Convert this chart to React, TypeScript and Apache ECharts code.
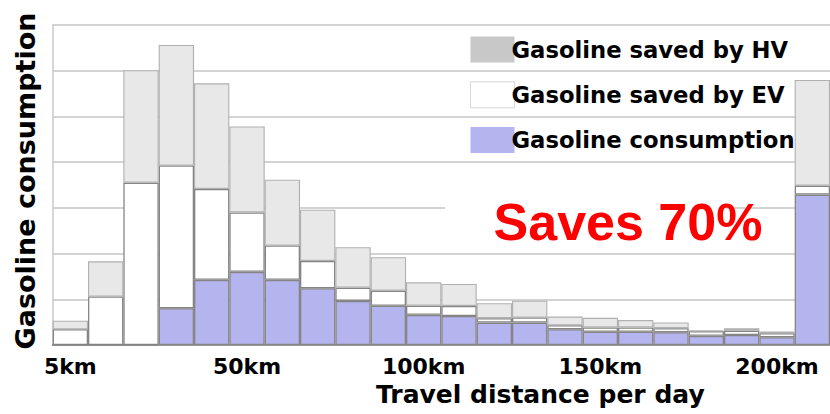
import React, { useEffect, useRef } from "react";
import * as echarts from "echarts";

// Distance bins (10 km each), last bin = over 200 km
const categories = [
  "0-10", "10-20", "20-30", "30-40", "40-50", "50-60", "60-70", "70-80", "80-90", "90-100",
  "100-110", "110-120", "120-130", "130-140", "140-150", "150-160", "160-170", "170-180",
  "180-190", "190-200", "200-210", "210+",
];
const xTickLabels = [
  "5km", "", "", "", "", "50km", "", "", "", "", "100km", "", "", "", "", "150km", "", "", "", "", "200km", "",
];
const consumption = [0, 0, 0, 8.05, 14.25, 16.0, 14.25, 12.4, 9.65, 8.6, 6.6, 6.35, 4.9, 4.9, 3.44, 2.9, 2.9, 2.8, 2.0, 2.2, 1.7, 32.9];
const savedByEV = [3.44, 10.6, 35.5, 31.2, 19.9, 13.0, 7.5, 6.0, 2.9, 3.3, 2.0, 2.2, 0.96, 1.1, 0.88, 0.95, 0.95, 0.88, 1.0, 0.95, 0.88, 1.97];
const savedByHV = [1.89, 7.7, 24.6, 26.4, 23.1, 18.8, 14.4, 11.2, 8.85, 7.3, 5.1, 4.8, 3.3, 3.7, 1.9, 2.1, 1.6, 1.24, 0.22, 0.5, 0.36, 23.1];

const NAME_HV = "Gasoline saved by HV";
const NAME_EV = "Gasoline saved by EV";
const NAME_CONS = "Gasoline consumption";

const FONT = "DejaVu Sans";

export default function App() {
  const ref = useRef<HTMLDivElement>(null);
  useEffect(() => {
    document.body.style.margin = "0";
    const chart = echarts.init(ref.current!, null, { renderer: "svg" });
    chart.setOption({
      animation: false,
      backgroundColor: "#ffffff",
      grid: { left: 52.7, top: 25, width: 782, height: 320, containLabel: false },
      legend: {
        orient: "vertical",
        left: 470,
        top: 36.5,
        padding: 0,
        itemWidth: 44,
        itemHeight: 26,
        itemGap: 18.8,
        icon: "rect",
        selectedMode: false,
        textStyle: {
          fontFamily: FONT,
          fontWeight: "bold",
          fontSize: 22.7,
          color: "#000",
          padding: [0, 0, 0, -8],
        },
        data: [
          { name: NAME_HV, itemStyle: { color: "#c8c8c8", borderWidth: 0 } },
          { name: NAME_EV, itemStyle: { color: "#ffffff", borderColor: "#d8d8d8", borderWidth: 1 } },
          { name: NAME_CONS, itemStyle: { color: "#b4b4ef", borderWidth: 0 } },
        ],
      },
      xAxis: {
        type: "category",
        data: categories,
        boundaryGap: true,
        name: "Travel distance per day",
        nameLocation: "middle",
        nameGap: 36,
        nameTextStyle: {
          fontFamily: FONT,
          fontWeight: "bold",
          fontSize: 25,
          color: "#000",
          padding: [0, 0, 0, 198],
        },
        axisLine: { show: true, lineStyle: { color: "#9a9a9a", width: 2 } },
        axisTick: { show: false },
        axisLabel: {
          interval: 0,
          margin: 10,
          fontFamily: FONT,
          fontWeight: "bold",
          fontSize: 22,
          color: "#000",
          formatter: (_v: string, i: number) => xTickLabels[i],
        },
        splitLine: { show: false },
      },
      yAxis: {
        type: "value",
        min: 0,
        max: 70,
        interval: 10,
        name: "Gasoline consumption",
        nameLocation: "middle",
        nameGap: 14,
        nameTextStyle: {
          fontFamily: FONT,
          fontWeight: "bold",
          fontSize: 27,
          color: "#000",
          padding: [0, 0, 0, 8],
        },
        axisLine: { show: true, lineStyle: { color: "#c8c8c8", width: 1.5 } },
        axisTick: { show: false },
        axisLabel: { show: false },
        splitLine: { show: true, lineStyle: { color: "#c4c4c4", width: 1.5 } },
      },
      series: [
        {
          name: NAME_CONS,
          type: "bar",
          stack: "total",
          data: consumption,
          barWidth: "100%",
          barCategoryGap: 0,
          itemStyle: { color: "#b4b4ef", borderColor: "#858585", borderWidth: 1.3 },
        },
        {
          name: NAME_EV,
          type: "bar",
          stack: "total",
          data: savedByEV,
          barWidth: "100%",
          barCategoryGap: 0,
          itemStyle: { color: "#ffffff", borderColor: "#858585", borderWidth: 1.3 },
        },
        {
          name: NAME_HV,
          type: "bar",
          stack: "total",
          data: savedByHV,
          barWidth: "100%",
          barCategoryGap: 0,
          itemStyle: { color: "#e8e8e8", borderColor: "#b0b0b0", borderWidth: 1.1 },
        },
      ],
      graphic: [
        {
          type: "rect",
          z: 1,
          silent: true,
          shape: { x: 445, y: 203, width: 281, height: 12 },
          style: { fill: "#ffffff" },
        },
        {
          type: "text",
          z: 10,
          x: 628,
          y: 222,
          style: {
            text: "Saves 70%",
            fill: "#ff0000",
            fontFamily: "Liberation Sans, Arial, sans-serif",
            fontWeight: "bold",
            fontSize: 52,
            align: "center",
            verticalAlign: "middle",
          },
        },
      ],
    });
    return () => chart.dispose();
  }, []);
  return <div ref={ref} style={{ width: 830, height: 414 }} />;
}
